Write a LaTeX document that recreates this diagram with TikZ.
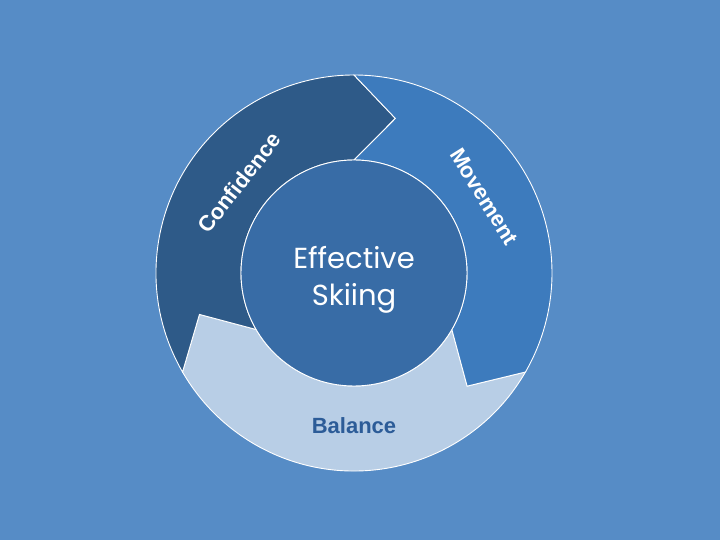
\documentclass[tikz,border=0pt]{standalone}
\usepackage{fontspec}
\setmainfont{Liberation Sans}
\newfontfamily\hubfont{Poppins}

\definecolor{bgblue}{RGB}{86,140,198}
\definecolor{confblue}{RGB}{46,90,136}
\definecolor{moveblue}{RGB}{61,123,189}
\definecolor{balblue}{RGB}{184,206,230}
\definecolor{hubblue}{RGB}{56,108,166}
\definecolor{baltext}{RGB}{44,92,152}

\begin{document}
\begin{tikzpicture}[x=1pt, y=1pt,
  seg/.style={draw=white, line width=0.9pt, line join=miter},
  lbl/.style={font=\fontsize{22}{24}\selectfont\bfseries, text=white},
  hubtxt/.style={anchor=base, text=white, font=\hubfont\fontsize{29}{34}\selectfont}]
  % page: 720 x 540, centre of the ring at (354,273) from the top left
  \fill[bgblue] (-354,-267) rectangle (366,273);
  \useasboundingbox (-354,-267) rectangle (366,273);

  % ring: outer radius 198, inner radius 113, tips at radius 160
  \filldraw[seg, fill=balblue] (-30:198) arc[start angle=-30, end angle=-150, radius=198]
    -- (-165:160) -- (-150:113) arc[start angle=-150, end angle=-30, radius=113]
    -- (-45:160) -- cycle;
  \filldraw[seg, fill=confblue] (210:198) arc[start angle=210, end angle=90, radius=198]
    -- (75:160) -- (90:113) arc[start angle=90, end angle=210, radius=113]
    -- (195:160) -- cycle;
  \filldraw[seg, fill=moveblue] (90:198) arc[start angle=90, end angle=-30, radius=198]
    -- (-45:160) -- (-30:113) arc[start angle=-30, end angle=90, radius=113]
    -- (75:160) -- cycle;

  % hub
  \filldraw[seg, fill=hubblue] (0,0) circle[radius=113];
  \node[hubtxt] (hubtop) at (0,4) {Effective};
  \node[hubtxt] (hubbot) at (0,-33) {Skiing};

  % labels
  \node[lbl, rotate=52] (conf) at (141.8:146) {Confidence};
  \node[lbl, rotate=-58] (move) at (30.4:151) {Movement};
  \node[lbl, text=baltext] (bal) at (270:153) {Balance};
\end{tikzpicture}
\end{document}
